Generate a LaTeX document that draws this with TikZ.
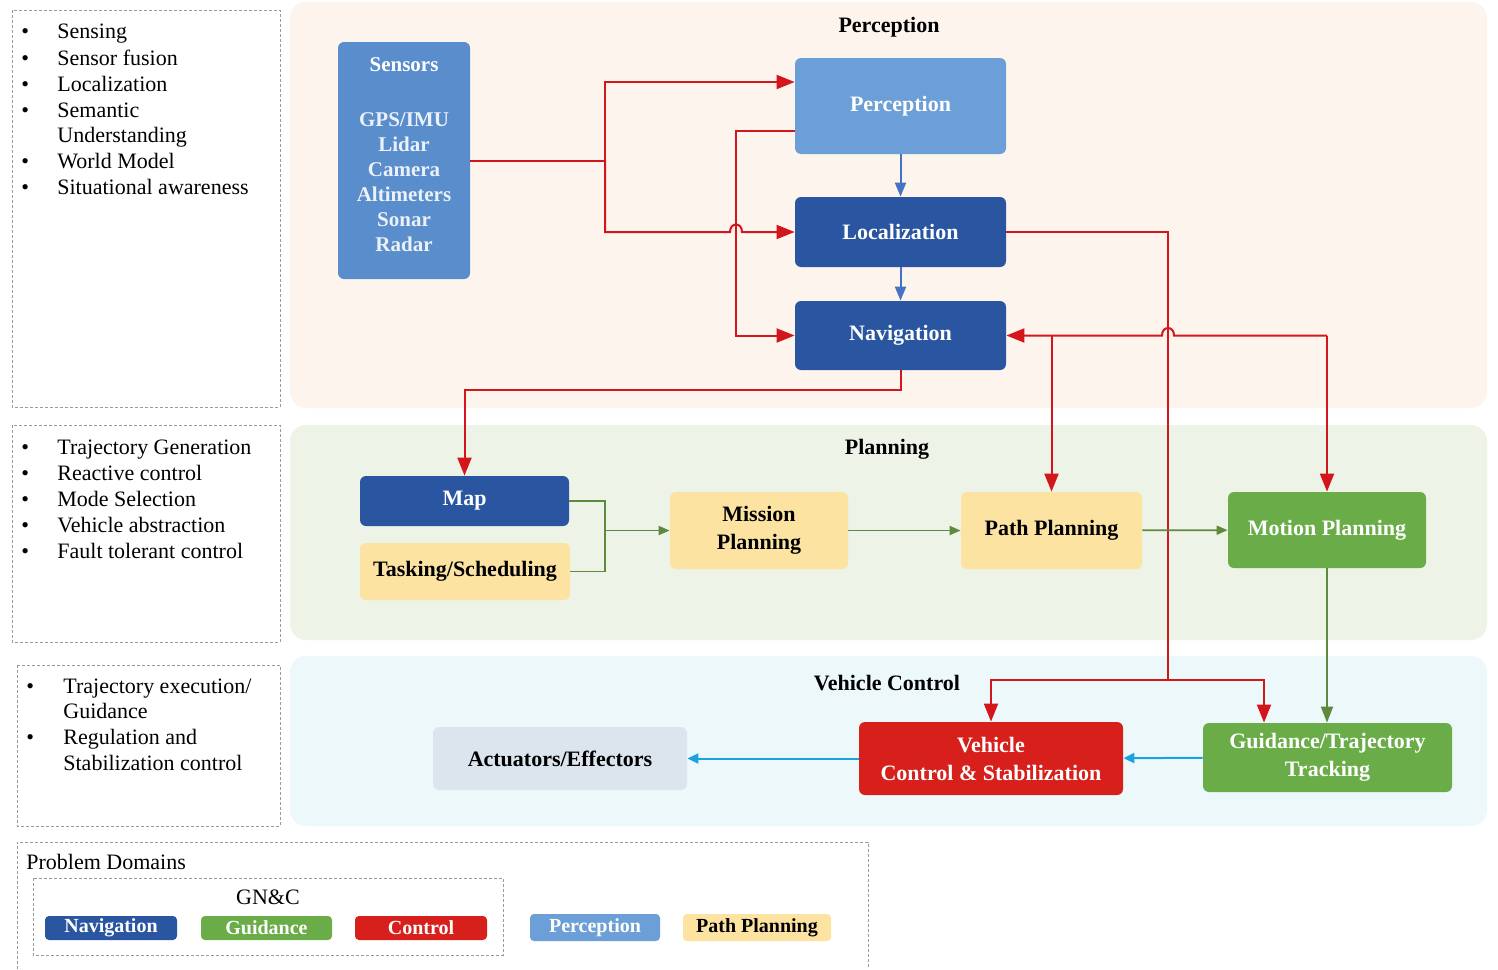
\documentclass[tikz,border=0pt]{standalone}
\usepackage{fontspec}
\setmainfont{Liberation Serif}
\usetikzlibrary{arrows.meta}

\definecolor{bandP}{HTML}{FDF4EE}
\definecolor{bandL}{HTML}{EDF3E7}
\definecolor{bandC}{HTML}{EDF8FB}
\definecolor{sensB}{HTML}{5A8DCB}
\definecolor{percB}{HTML}{6C9ED7}
\definecolor{navB}{HTML}{2A55A0}
\definecolor{planY}{HTML}{FCE3A2}
\definecolor{guidG}{HTML}{6AAD48}
\definecolor{ctrlR}{HTML}{D7201B}
\definecolor{actG}{HTML}{DCE5EE}
\definecolor{lineR}{HTML}{D2161C}
\definecolor{lineB}{HTML}{4472C4}
\definecolor{lineG}{HTML}{5F8A3D}
\definecolor{lineC}{HTML}{1AA3E0}
\definecolor{panelD}{HTML}{9A9A9A}

\begin{document}
\begin{tikzpicture}[x=0.5pt,y=-0.5pt,
  band/.style={fill=#1,draw=none,rounded corners=8pt},
  panel/.style={draw=panelD,line width=0.4pt,dash pattern=on 1.5pt off 1pt},
  blk/.style={fill=#1,draw=none,rounded corners=3pt,inner sep=0pt,align=center,
    font=\bfseries\fontsize{11}{14}\selectfont},
  wtxt/.style={text=white},
  chip/.style={fill=#1,draw=none,rounded corners=2pt,inner sep=0pt,
    font=\bfseries\fontsize{10}{12}\selectfont},
  title/.style={font=\bfseries\fontsize{11}{13}\selectfont},
  ltxt/.style={anchor=base west,inner sep=0pt,font=\fontsize{11}{13}\selectfont},
  redline/.style={draw=lineR,line width=1pt},
  redarrow/.style={redline,-{Triangle[length=9pt,width=7pt]}},
  bluearrow/.style={draw=lineB,line width=1pt,-{Triangle[length=7pt,width=5.5pt]}},
  greenline/.style={draw=lineG,line width=0.9pt},
  greenarrow/.style={greenline,-{Triangle[length=5.5pt,width=4.5pt]}},
  greenarrowB/.style={greenline,-{Triangle[length=8pt,width=6pt]}},
  cyanarrow/.style={draw=lineC,line width=1pt,-{Triangle[length=5.5pt,width=5pt]}}
]
\useasboundingbox (0,0) rectangle (1498,969);
\fill[white] (0,0) rectangle (1498,969);

% layer bands
\fill[band=bandP] (290,2) rectangle (1487,408);
\fill[band=bandL] (290,425) rectangle (1487,640);
\fill[band=bandC] (290,656) rectangle (1487,826);

\node[title] (tPer) at (889,27) {Perception};
\node[title] (tPla) at (887,449) {Planning};
\node[title] (tVeh) at (887,683) {Vehicle Control};

% side panels with the tasks of each layer
\draw[panel] (12,10) rectangle (280,407);
\draw[panel] (12,425) rectangle (280,642);
\draw[panel] (17,665) rectangle (280,826);

\foreach \yy/\tt [count=\i] in {39/Sensing,65/Sensor fusion,91/Localization,117/Semantic,
  168/World Model,194/Situational awareness}{
  \node[ltxt] (pa\i) at (57,\yy) {\tt};
  \node[ltxt] (ba\i) at (21,\yy) {\textbullet};
}
\node[ltxt] (pa7) at (57,142) {Understanding};
\foreach \yy/\tt [count=\i] in {454/Trajectory Generation,480/Reactive control,506/Mode Selection,
  532/Vehicle abstraction,558/Fault tolerant control}{
  \node[ltxt] (pb\i) at (57,\yy) {\tt};
  \node[ltxt] (bb\i) at (21,\yy) {\textbullet};
}
\node[ltxt] (pc1) at (63,693) {Trajectory execution/};
\node[ltxt] (pc2) at (63,718) {Guidance};
\node[ltxt] (pc3) at (63,744) {Regulation and};
\node[ltxt] (pc4) at (63,770) {Stabilization control};
\node[ltxt] (bc1) at (26,693) {\textbullet};
\node[ltxt] (bc2) at (26,744) {\textbullet};

% legend
\draw[panel] (17,969) -- (17,842) -- (868,842) -- (868,969);
\draw[panel] (33,878) rectangle (503,955);
\node[ltxt] (lgT) at (26,869) {Problem Domains};
\node[font=\fontsize{11}{13}\selectfont] (lgG) at (268,897) {GN\&C};
\node[chip=navB,wtxt,minimum width=66pt,minimum height=12pt] (cNav) at (111,928) {Navigation};
\node[chip=guidG,wtxt,minimum width=65.5pt,minimum height=12pt] (cGui) at (266.5,928) {Guidance};
\node[chip=ctrlR,wtxt,minimum width=66pt,minimum height=12pt] (cCtl) at (421,928) {Control};
\node[chip=percB,wtxt,minimum width=65pt,minimum height=13.5pt] (cPer) at (595,927.5) {Perception};
\node[chip=planY,minimum width=74pt,minimum height=13.5pt] (cPla) at (757,927.5) {Path Planning};

% perception layer
\node[blk=sensB,minimum width=66pt,minimum height=118.5pt] (sens) at (404,160.5) {};
\node[wtxt,align=center,font=\bfseries\fontsize{10.5}{12.5}\selectfont,inner sep=0pt] (sensT) at (404,155)
  {Sensors\\[15pt]\textcolor{white!88!sensB}{GPS/IMU}\\\textcolor{white!88!sensB}{Lidar}\\
   \textcolor{white!88!sensB}{Camera}\\\textcolor{white!88!sensB}{Altimeters}\\
   \textcolor{white!88!sensB}{Sonar}\\\textcolor{white!88!sensB}{Radar}};
\node[blk=percB,wtxt,minimum width=105.5pt,minimum height=48pt] (perc) at (900.5,106) {Perception};
\node[blk=navB,wtxt,minimum width=105.5pt,minimum height=35pt] (loc) at (900.5,232) {Localization};
\node[blk=navB,wtxt,minimum width=105.5pt,minimum height=34.5pt] (nav) at (900.5,335.5) {Navigation};

% planning layer
\node[blk=navB,wtxt,minimum width=104.5pt,minimum height=25pt] (map) at (464.5,501) {Map};
\node[blk=planY,minimum width=105pt,minimum height=28.5pt] (task) at (465,571.5) {Tasking/Scheduling};
\node[blk=planY,minimum width=89pt,minimum height=38.5pt] (mis) at (759,530.5) {Mission\\Planning};
\node[blk=planY,minimum width=90.5pt,minimum height=38.5pt] (path) at (1051.5,530.5) {Path Planning};
\node[blk=guidG,wtxt,minimum width=99pt,minimum height=38pt] (mot) at (1327,530) {Motion Planning};

% vehicle control layer
\node[blk=ctrlR,wtxt,minimum width=132pt,minimum height=36.5pt] (veh) at (991,758.5) {Vehicle\\Control \& Stabilization};
\node[blk=guidG,wtxt,minimum width=124.5pt,minimum height=34.5pt] (gui) at (1327.5,757.5) {Guidance/Trajectory\\Tracking};
\node[blk=actG,minimum width=127pt,minimum height=31.5pt] (act) at (560,758.5) {Actuators/Effectors};

% sensor data paths
\coordinate (sj) at (605,160.5);
\draw[redline] (sens.east) -- (sj);
\draw[redarrow] (sj) |- ([yshift=12pt]perc.west);
\draw[redarrow] (sj) |- (730,232) .. controls (730,222) and (742,222) .. (742,232) -- (loc.west);
\draw[redarrow] ([yshift=-12.5pt]perc.west) -- (736,131) |- (nav.west);

% perception chain
\draw[bluearrow] (perc) -- (loc);
\draw[bluearrow] (loc) -- (nav);

% navigation to map
\draw[redarrow] (nav.south) -- ++(0,20) -| (map.north);

% localization down to the control layer
\coordinate (vj) at (1168,680);
\draw[redline] (loc.east) -| (vj);
\draw[redarrow] (vj) -| (veh.north);
\draw[redarrow] (vj) -| ([xshift=-31.75pt]gui.north);

% shared bus to navigation and planners
\coordinate (nj) at (1327,335.5);
\draw[redarrow] (nj) -- (1174,335.5) .. controls (1174,325.5) and (1162,325.5) .. (1162,335.5) -- (nav.east);
\draw[redarrow] (path.north |- nav.east) -- (path.north);
\draw[redarrow] (nj) -- (mot.north);

% planning chain
\coordinate (gj) at (605,530.5);
\draw[greenline] (map.east) -- (map.east -| gj) |- (task.east);
\draw[greenarrow] (gj) -- (mis.west);
\draw[greenarrow] (mis) -- (path);
\draw[greenarrow] (path) -- (mot);
\draw[greenarrowB] (mot.south) -- (mot.south |- gui.north);

% control chain
\draw[cyanarrow] (gui) -- (veh);
\draw[cyanarrow] (veh) -- (act);
\end{tikzpicture}
\end{document}
